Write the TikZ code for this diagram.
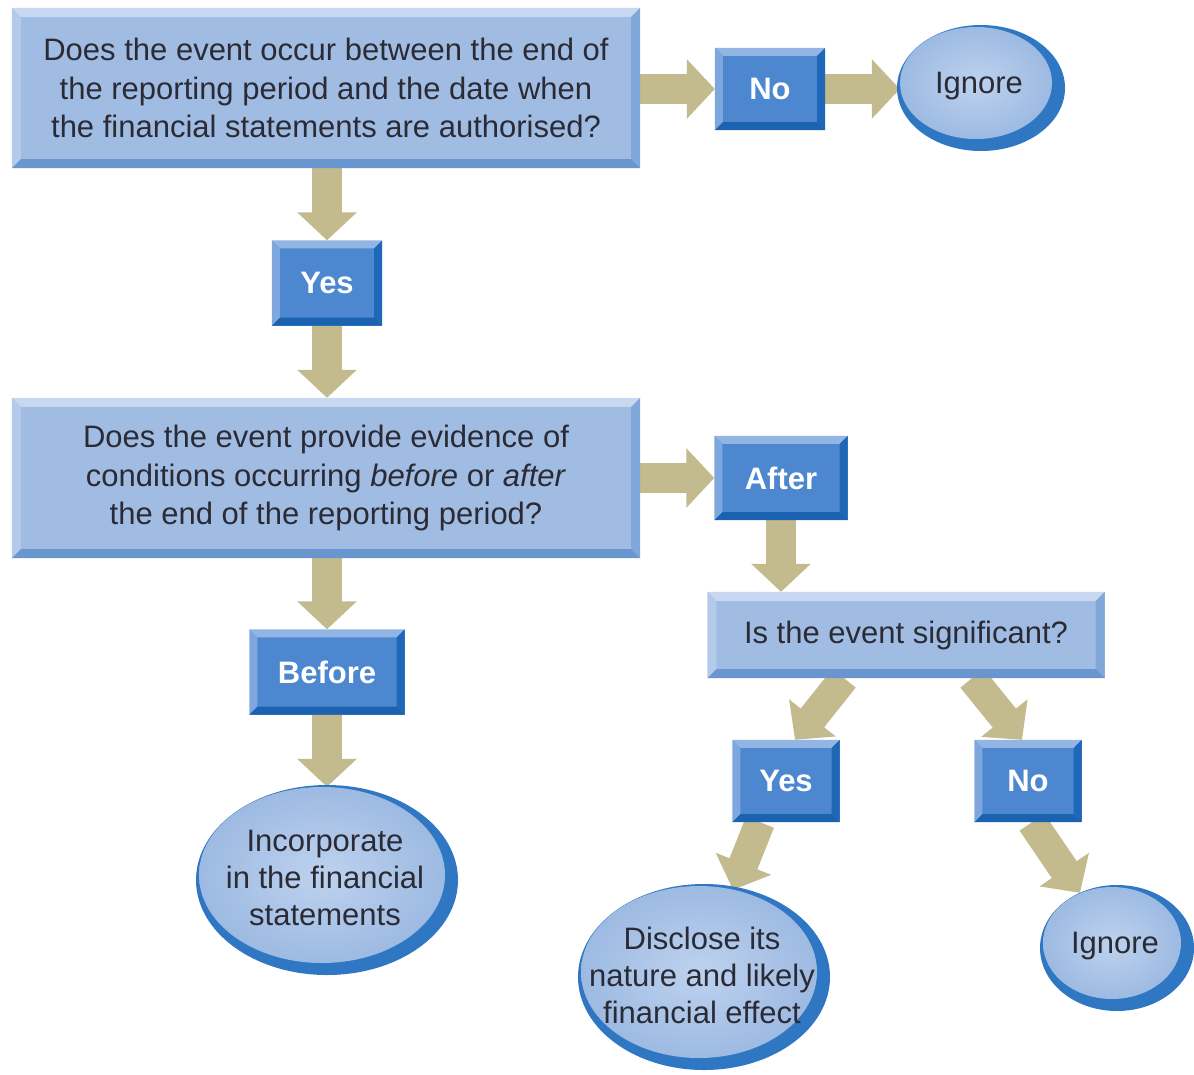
\documentclass[tikz,border=0pt]{standalone}
\usepackage{fontspec}
\setmainfont{Liberation Sans}
\usetikzlibrary{arrows.meta,shapes.geometric,calc}
\pgfdeclarelayer{backmost}
\pgfdeclarelayer{arrowlayer}
\pgfsetlayers{backmost,arrowlayer,main}
\definecolor{qfill}{HTML}{A1BCE2}
\definecolor{qtop}{HTML}{C8D8F0}
\definecolor{qleft}{HTML}{B4CAEA}
\definecolor{qright}{HTML}{80A7D9}
\definecolor{qbot}{HTML}{6A96D0}
\definecolor{dfill}{HTML}{4C87CF}
\definecolor{dtop}{HTML}{92B5E4}
\definecolor{dleft}{HTML}{7EA8DD}
\definecolor{dright}{HTML}{1F68B7}
\definecolor{dbot}{HTML}{1B62B0}
\definecolor{ovin}{HTML}{BED2EF}
\definecolor{ovout}{HTML}{9DBAE2}
\definecolor{rim}{HTML}{2F77C3}
\definecolor{arrowc}{HTML}{C3BA8D}
\definecolor{txt}{HTML}{2B2B36}
\newcommand\bevel[6]{%
  \fill[#2] (#1.north west) -- (#1.north east) -- ([shift={(-#6,#6)}]#1.north east) -- ([shift={(#6,#6)}]#1.north west) -- cycle;
  \fill[#3] (#1.north west) -- ([shift={(#6,#6)}]#1.north west) -- ([shift={(#6,-#6)}]#1.south west) -- (#1.south west) -- cycle;
  \fill[#4] (#1.north east) -- (#1.south east) -- ([shift={(-#6,-#6)}]#1.south east) -- ([shift={(-#6,#6)}]#1.north east) -- cycle;
  \fill[#5] (#1.south west) -- (#1.south east) -- ([shift={(-#6,-#6)}]#1.south east) -- ([shift={(#6,-#6)}]#1.south west) -- cycle;
}
\newcommand\ovalnode[6]{% name, x, y, rx, ry, text
  \fill[rim] (#2,#3) ellipse [x radius=#4, y radius=#5];
  \node[ovalshape, minimum width={2*#4-16}, minimum height={2*#5-14}] (#1) at ({#2-5},{#3-5}) {};
  \node[ovaltext] (#1-label) at ({#2-2},{#3-2}) {#6};
}
\begin{document}
\begin{tikzpicture}[x=1pt,y=-1pt,
  qbox/.style={rectangle, fill=qfill, inner sep=0pt, align=center, text=txt,
    font=\fontsize{31}{38.5}\selectfont},
  dbox/.style={rectangle, fill=dfill, inner sep=0pt, text=white,
    font=\fontsize{31}{34}\selectfont\bfseries},
  ovalshape/.style={ellipse, inner sep=0pt, inner color=ovin, outer color=ovout},
  ovaltext/.style={inner sep=0pt, align=center, text=txt, font=\fontsize{31}{37}\selectfont},
  flow/.style={draw=arrowc, line width=30pt, -{Triangle[width=58pt,length=28pt]}}]
\useasboundingbox (0,0) rectangle (1194,1074);
\begin{pgfonlayer}{backmost}
\fill[white] (0,0) rectangle (1194,1074);
\end{pgfonlayer}

% question boxes
\node[qbox, minimum width=628pt, minimum height=160pt] (q1) at (326,88)
  {Does the event occur between the end of\\the reporting period and the date when\\the financial statements are authorised?};
\bevel{q1}{qtop}{qleft}{qright}{qbot}{9}
\node[qbox, minimum width=628pt, minimum height=160pt] (q2) at (326,478)
  {Does the event provide evidence of\\conditions occurring \textit{before} or \textit{after}\\the end of the reporting period?};
\bevel{q2}{qtop}{qleft}{qright}{qbot}{9}
\node[qbox, minimum width=397pt, minimum height=86pt] (q3) at (906,635)
  {Is the event significant?};
\bevel{q3}{qtop}{qleft}{qright}{qbot}{9}

% answer boxes
\node[dbox, minimum width=110pt, minimum height=82pt] (no1) at (770,89) {No};
\bevel{no1}{dtop}{dleft}{dright}{dbot}{8}
\node[dbox, minimum width=110pt, minimum height=85pt] (yes1) at (327,283) {Yes};
\bevel{yes1}{dtop}{dleft}{dright}{dbot}{8}
\node[dbox, minimum width=133pt, minimum height=84pt] (after) at (781,478) {After};
\bevel{after}{dtop}{dleft}{dright}{dbot}{8}
\node[dbox, minimum width=155pt, minimum height=85pt] (before) at (327,672) {Before};
\bevel{before}{dtop}{dleft}{dright}{dbot}{8}
\node[dbox, minimum width=107pt, minimum height=82pt] (yes2) at (786,781) {Yes};
\bevel{yes2}{dtop}{dleft}{dright}{dbot}{8}
\node[dbox, minimum width=107pt, minimum height=82pt] (no2) at (1028,781) {No};
\bevel{no2}{dtop}{dleft}{dright}{dbot}{8}

% outcome ovals
\ovalnode{ign1}{981}{88}{84}{63}{Ignore}
\ovalnode{inc}{327}{880}{131}{95}{Incorporate\\in the financial\\statements}
\ovalnode{disc}{704}{977}{126}{93}{Disclose its\\nature and likely\\financial effect}
\ovalnode{ign2}{1117}{948}{77}{63}{Ignore}

% connectors
\begin{pgfonlayer}{arrowlayer}
\draw[flow] (q1.east |- no1.west) -- (no1.west);
\draw[flow] (no1.east) -- (no1.east -| ign1.west);
\draw[flow] (q1.south -| yes1.north) -- (yes1.north);
\draw[flow] (yes1.south) -- (yes1.south |- q2.north);
\draw[flow] (q2.east |- after.west) -- (after.west);
\draw[flow] (after.south) -- (after.south |- q3.north);
\draw[flow] (q2.south -| before.north) -- (before.north);
\draw[flow] (before.south) -- (inc.north -| before.south);
\draw[flow] ([xshift=-62pt]q3.south) -- ([xshift=9pt]yes2.north);
\draw[flow] ([xshift=66pt]q3.south) -- ([xshift=-6pt]no2.north);
\draw[flow] ([xshift=-26pt]yes2.south) -- ([xshift=34pt,yshift=-4pt]disc.north);
\draw[flow] ([xshift=4pt]no2.south) -- ([xshift=-32pt,yshift=-6pt]ign2.north);
\end{pgfonlayer}
\end{tikzpicture}
\end{document}
